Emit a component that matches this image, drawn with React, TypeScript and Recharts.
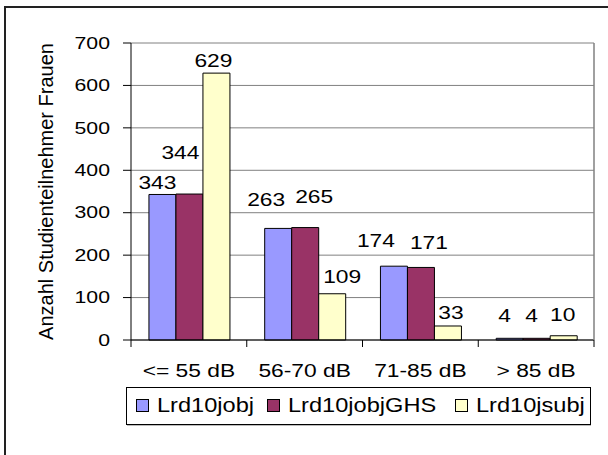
import React from "react";
import { BarChart, Bar, XAxis, YAxis, CartesianGrid, Legend, LabelList } from "recharts";

const categories = ["<= 55 dB", "56-70 dB", "71-85 dB", "> 85 dB"];
const lrd10jobj = [343, 263, 174, 4];
const lrd10jobjGHS = [344, 265, 171, 4];
const lrd10jsubj = [629, 109, 33, 10];
const yTicks = [0, 100, 200, 300, 400, 500, 600, 700];

const data = categories.map((cat, i) => ({
  cat,
  a: lrd10jobj[i],
  b: lrd10jobjGHS[i],
  c: lrd10jsubj[i],
}));

const FONT = '"Liberation Sans", Arial, sans-serif';
const W = 608;
const H = 455;
const M = { top: 43, right: 13, bottom: 65, left: 0 };
const Y_W = 131;
const BAND = (W - M.left - Y_W - M.right - 1) / categories.length;

// excel places the value labels a bit off the bars: [dx, lift above bar top]
const nudges = {
  a: [[-5, 12], [-12, 29], [-18, 26], [-5, 23]],
  b: [[-9, 42], [9, 31], [8, 25], [-5, 23]],
  c: [[-3, 13], [10, 18], [3, 14], [-1, 22]],
};
const legendX = [10, 141, 329];

function Stretch({ x, y, anchor, size, sx, children }: any) {
  return (
    <text
      transform={`translate(${x},${y}) scale(${sx},1)`}
      textAnchor={anchor}
      dominantBaseline="central"
      fontSize={size}
      fontFamily={FONT}
      fill="#000"
    >
      {children}
    </text>
  );
}

function YTick({ x, y, payload }: any) {
  return (
    <Stretch x={x} y={y} anchor="end" size={17} sx={1.25}>
      {payload.value}
    </Stretch>
  );
}

function XTick({ x, y, payload, index }: any) {
  const last = index === categories.length - 1;
  return (
    <g>
      <line x1={x - BAND / 2} x2={x - BAND / 2} y1={y} y2={y + 7} stroke="#000" />
      {last && <line x1={x + BAND / 2} x2={x + BAND / 2} y1={y} y2={y + 7} stroke="#000" />}
      <Stretch x={x} y={y + 30} anchor="middle" size={19} sx={1.2}>
        {payload.value}
      </Stretch>
    </g>
  );
}

function makeLabel(key: "a" | "b" | "c", values: number[]) {
  return (p: any) => {
    const idx = typeof p.index === "number" ? p.index : values.indexOf(p.value);
    const [dx, lift] = nudges[key][idx] || [0, 12];
    return (
      <Stretch x={p.x + p.width / 2 + dx} y={p.y - lift} anchor="middle" size={19} sx={1.2}>
        {p.value}
      </Stretch>
    );
  };
}

function YLabel(p: any) {
  const vb = p.viewBox || {};
  const cy = vb.height ? vb.y + vb.height / 2 : 192;
  return (
    <text
      x={46}
      y={cy}
      transform={`rotate(-90 46 ${cy})`}
      textAnchor="middle"
      dominantBaseline="central"
      fontSize={20}
      fontFamily={FONT}
      fill="#000"
    >
      Anzahl Studienteilnehmer Frauen
    </text>
  );
}

function LegendBox({ payload }: any) {
  const items = payload || [];
  return (
    <svg width={466} height={39} style={{ display: "block" }}>
      <rect x={0.5} y={0.5} width={464} height={37} fill="#fff" stroke="#000" />
      <line x1={1} x2={465} y1={38.5} y2={38.5} stroke="#bbb" />
      {items.map((it: any, i: number) => (
        <g key={it.value}>
          <rect x={legendX[i] + 0.5} y={12.5} width={12} height={12} fill={it.color} stroke="#000" />
          <Stretch x={legendX[i] + 21} y={18.5} anchor="start" size={20} sx={1.18}>
            {it.value}
          </Stretch>
        </g>
      ))}
    </svg>
  );
}

export default function App() {
  return (
    <div style={{ position: "absolute", left: 0, top: 0, width: W, height: H, background: "#fff" }}>
      <div
        style={{
          position: "absolute",
          left: 4,
          top: 6,
          width: W - 4,
          height: H - 6,
          borderTop: "2px solid #222",
          borderLeft: "2px solid #222",
        }}
      />
      <BarChart
        width={W}
        height={H}
        data={data}
        margin={M}
        barCategoryGap="15.5%"
        barGap={0}
        style={{ position: "absolute", left: 0, top: 0 }}
      >
        <CartesianGrid vertical={false} stroke="#808080" />
        <XAxis
          dataKey="cat"
          interval={0}
          tickSize={0}
          tickMargin={0}
          height={50}
          axisLine={{ stroke: "#000" }}
          tickLine={false}
          tick={<XTick />}
        />
        <YAxis
          width={Y_W}
          domain={[0, 700]}
          ticks={yTicks}
          interval={0}
          tickSize={8}
          tickMargin={13}
          axisLine={{ stroke: "#000" }}
          tickLine={{ stroke: "#000" }}
          tick={<YTick />}
          label={{ position: "center", content: YLabel }}
        />
        <YAxis
          yAxisId="r"
          orientation="right"
          width={1}
          domain={[0, 700]}
          tick={false}
          tickLine={false}
          axisLine={{ stroke: "#808080", strokeWidth: 1.5 }}
        />
        <Legend
          layout="horizontal"
          verticalAlign="middle"
          align="center"
          wrapperStyle={{ position: "absolute", left: 126, top: 387, width: 466, height: 39 }}
          content={LegendBox}
        />
        <Bar dataKey="a" name="Lrd10jobj" fill="#9999FF" stroke="#000" strokeWidth={1} isAnimationActive={false}>
          <LabelList dataKey="a" content={makeLabel("a", lrd10jobj)} />
        </Bar>
        <Bar dataKey="b" name="Lrd10jobjGHS" fill="#993366" stroke="#000" strokeWidth={1} isAnimationActive={false}>
          <LabelList dataKey="b" content={makeLabel("b", lrd10jobjGHS)} />
        </Bar>
        <Bar dataKey="c" name="Lrd10jsubj" fill="#FFFFCC" stroke="#000" strokeWidth={1} isAnimationActive={false}>
          <LabelList dataKey="c" content={makeLabel("c", lrd10jsubj)} />
        </Bar>
      </BarChart>
    </div>
  );
}
